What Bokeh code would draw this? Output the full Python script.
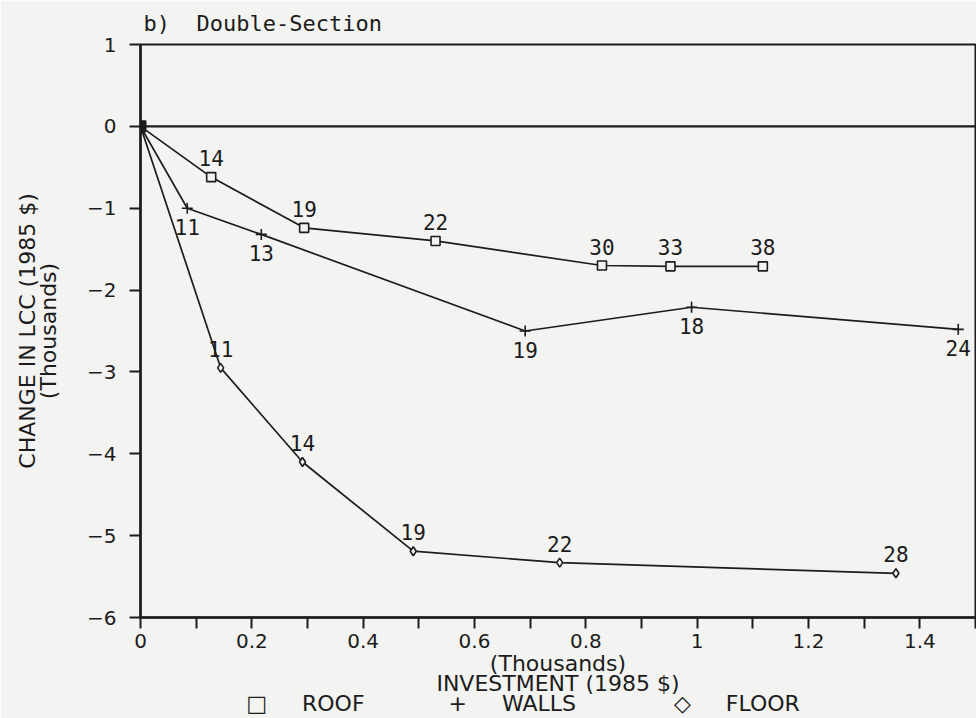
from bokeh.plotting import figure
from bokeh.models import Range1d, FixedTicker, Span, ColumnDataSource
from bokeh.core.properties import value
from bokeh.embed import file_html
from bokeh.resources import INLINE

# ---- data (investment in $ thousands, change in LCC in $ thousands) ----
roof_x = [0, 0.127, 0.294, 0.530, 0.829, 0.952, 1.118]
roof_y = [0, -0.62, -1.24, -1.40, -1.70, -1.71, -1.71]
roof_lbl = ["", "14", "19", "22", "30", "33", "38"]

walls_x = [0, 0.084, 0.217, 0.691, 0.990, 1.469]
walls_y = [0, -1.00, -1.32, -2.50, -2.21, -2.48]
walls_lbl = ["", "11", "13", "19", "18", "24"]

floor_x = [0, 0.144, 0.291, 0.490, 0.753, 1.357]
floor_y = [0, -2.95, -4.10, -5.19, -5.33, -5.46]
floor_lbl = ["", "11", "14", "19", "22", "28"]

x_ticks = [0, 0.2, 0.4, 0.6, 0.8, 1.0, 1.2, 1.4]
x_tick_labels = ["0", "0.2", "0.4", "0.6", "0.8", "1", "1.2", "1.4"]
x_minor = [0.1, 0.3, 0.5, 0.7, 0.9, 1.1, 1.3, 1.5]
y_ticks = [1, 0, -1, -2, -3, -4, -5, -6]
y_tick_labels = ["1", "0", "\u22121", "\u22122", "\u22123", "\u22124", "\u22125", "\u22126"]

title_text = "b)\u00a0\u00a0Double-Section"
y_label_1 = "CHANGE IN LCC (1985 $)"
y_label_2 = "(Thousands)"
x_label_1 = "(Thousands)"
x_label_2 = "INVESTMENT (1985 $)"
legend_names = ["ROOF", "WALLS", "FLOOR"]
legend_syms = ["\u25a1", "+", "\u25c7"]

# ---- layout / style ----
W, H = 976, 718
L, R, T, B = 140, 1, 44, 101
X0, X1, Y0, Y1 = 0, 1.5, -6, 1
BG = "#f3f3f1"
INK = "#1c1c1c"
SANS = "DejaVu Sans"
MONO = "DejaVu Sans Mono"
NB = "\u00a0"

p = figure(width=W, height=H, output_backend="svg", toolbar_location=None,
           x_range=Range1d(X0, X1), y_range=Range1d(Y0, Y1),
           min_border_left=L, min_border_right=R, min_border_top=T, min_border_bottom=B,
           background_fill_color=BG, border_fill_color=BG)
p.grid.visible = False
p.outline_line_color = INK
p.outline_line_width = 2

# title
p.title.text = title_text
p.title.align = "left"
p.title.offset = 3
p.title.standoff = 17
p.title.text_font = MONO
p.title.text_font_size = "22px"
p.title.text_font_style = "normal"
p.title.text_color = INK

# legend row: symbol + name, spaced with no-break spaces (third line under the x label)
gaps = [12, 14]
parts = []
for i, (sym, name) in enumerate(zip(legend_syms, legend_names)):
    parts.append(sym + NB * 5 + name)
    if i < len(gaps):
        parts.append(NB * gaps[i])
legend_line = "".join(parts) + NB * 10

# axes
p.xaxis.ticker = FixedTicker(ticks=x_ticks, minor_ticks=x_minor)
p.xaxis.major_label_overrides = {t: s for t, s in zip(x_ticks, x_tick_labels)}
p.yaxis.ticker = FixedTicker(ticks=y_ticks, minor_ticks=[])
p.yaxis.major_label_overrides = {t: s for t, s in zip(y_ticks, y_tick_labels)}
for ax in (p.xaxis[0], p.yaxis[0]):
    ax.axis_line_color = INK
    ax.axis_line_width = 2.5
    ax.major_tick_line_color = INK
    ax.major_tick_line_width = 2
    ax.major_tick_in = 0
    ax.major_tick_out = 11
    ax.minor_tick_line_color = INK
    ax.minor_tick_line_width = 2
    ax.minor_tick_in = 0
    ax.minor_tick_out = 11
    ax.major_label_text_font = SANS
    ax.major_label_text_font_size = "20px"
    ax.major_label_text_color = INK
    ax.axis_label_text_font = SANS
    ax.axis_label_text_font_size = "22px"
    ax.axis_label_text_font_style = "normal"
    ax.axis_label_text_color = INK
p.xaxis.major_label_standoff = 5
p.yaxis.major_label_standoff = 13
p.xaxis.axis_label = x_label_1 + "\n" + x_label_2 + "\n" + legend_line
p.xaxis.axis_label_text_line_height = 0.80
p.xaxis.axis_label_standoff = 0
p.yaxis.axis_label = y_label_1 + "\n" + y_label_2
p.yaxis.axis_label_text_line_height = 0.85
p.yaxis.axis_label_standoff = 23

p.add_layout(Span(location=0, dimension="width", line_color=INK, line_width=2.2))

# series
series = [
    (roof_x, roof_y, roof_lbl, "square", -19),
    (walls_x, walls_y, walls_lbl, "cross", 19),
    (floor_x, floor_y, floor_lbl, "diamond", -19),
]
for xs, ys, lbls, mk, off in series:
    src = ColumnDataSource(dict(x=xs, y=ys, t=lbls))
    p.line("x", "y", source=src, line_color=INK, line_width=1.7)
    if mk == "cross":
        p.scatter("x", "y", source=src, marker=mk, size=11, line_color=INK, line_width=1.6)
    else:
        p.scatter("x", "y", source=src, marker=mk, size=9, line_color=INK,
                  line_width=1.6, fill_color=BG)
    p.text("x", "y", text="t", source=src, text_font=value(MONO), text_font_size="21px",
           text_color=INK, text_align="center", text_baseline="middle", y_offset=off)

# origin blob where all three series start
p.scatter([roof_x[0]], [roof_y[0]], marker="square", size=11, fill_color=INK, line_color=INK)

open("out.html", "w").write(file_html(p, INLINE))
